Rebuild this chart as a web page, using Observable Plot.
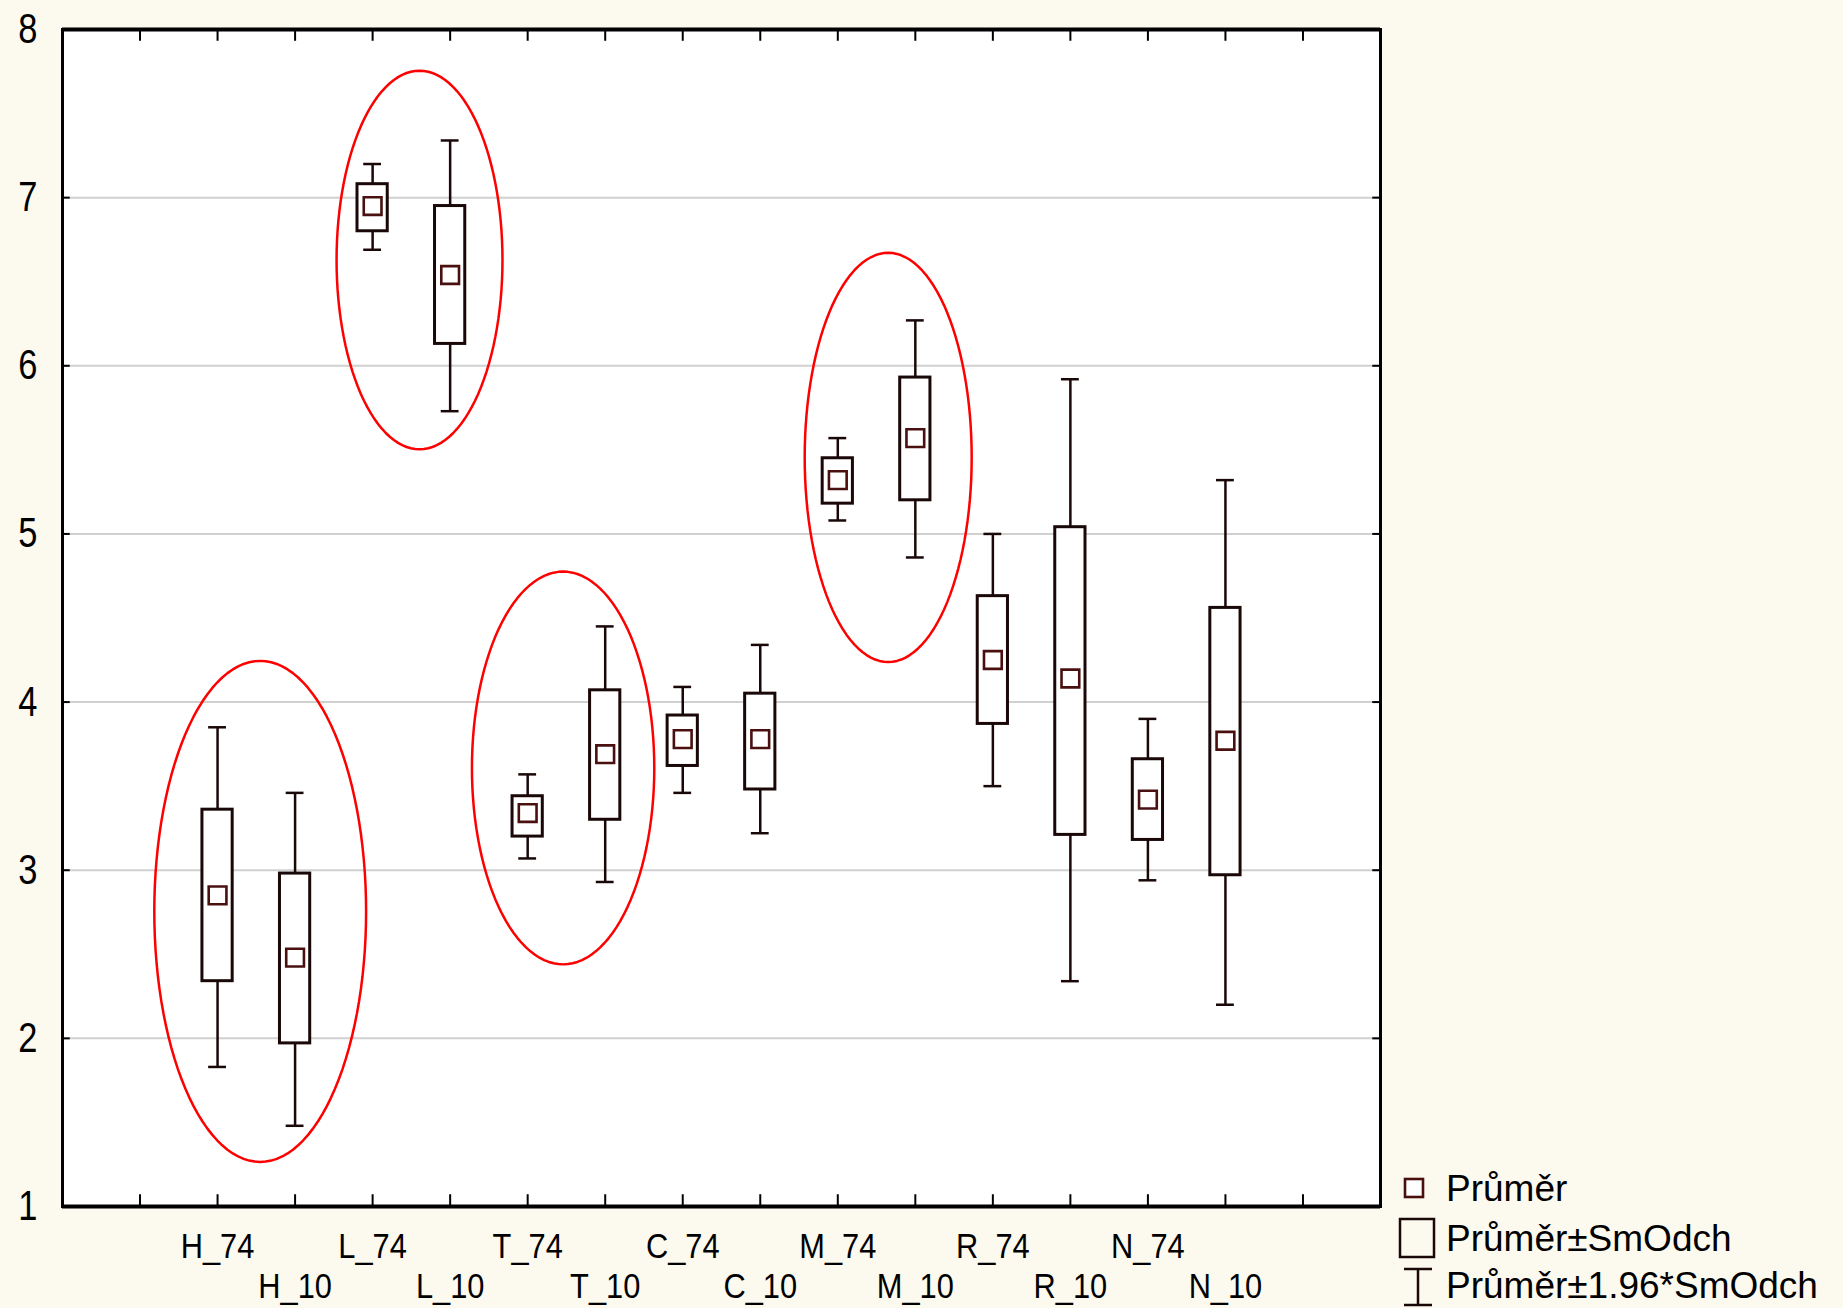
<!DOCTYPE html>
<html>
<head>
<meta charset="utf-8">
<script src="https://cdn.jsdelivr.net/npm/d3@7"></script>
<script src="https://cdn.jsdelivr.net/npm/@observablehq/plot@0.6"></script>
<style>
  html, body { margin: 0; padding: 0; background: #FCF9EE; }
  #wrap { position: relative; width: 1843px; height: 1308px; overflow: hidden; }
  #legend { position: absolute; left: 0; top: 0; pointer-events: none; }
</style>
</head>
<body>
<div id="wrap"></div>
<script>
// ---- data ----
const categories = ["H_74","H_10","L_74","L_10","T_74","T_10","C_74","C_10","M_74","M_10","R_74","R_10","N_74","N_10"];
const means  = [2.85, 2.48, 6.95, 6.54, 3.34, 3.69, 3.78, 3.78, 5.32, 5.57, 4.25, 4.14, 3.42, 3.77];
const sdLow  = [2.34, 1.97, 6.80, 6.13, 3.20, 3.30, 3.62, 3.48, 5.18, 5.20, 3.87, 3.21, 3.18, 2.97];
const sdHigh = [3.36, 2.98, 7.08, 6.95, 3.44, 4.07, 3.92, 4.05, 5.45, 5.93, 4.63, 5.04, 3.66, 4.56];
const ciLow  = [1.83, 1.48, 6.69, 5.73, 3.07, 2.93, 3.46, 3.22, 5.08, 4.86, 3.50, 2.34, 2.94, 2.20];
const ciHigh = [3.85, 3.46, 7.20, 7.34, 3.57, 4.45, 4.09, 4.34, 5.57, 6.27, 5.00, 5.92, 3.90, 5.32];
const yTickLabels = [1, 2, 3, 4, 5, 6, 7, 8];
const gridValues = [2, 3, 4, 5, 6, 7];
// highlighted pairs (ellipses): centre between the pair, radii in data units
const ellipseCx = [2.55, 4.605, 6.457, 10.65];
const ellipseCy = [2.755, 6.629, 3.608, 5.455];
const ellipseRx = [1.366, 1.07, 1.176, 1.077];
const ellipseRy = [1.49, 1.126, 1.168, 1.217];
const legendLabels = ["Průměr", "Průměr±SmOdch", "Průměr±1.96*SmOdch"];

// ---- build tables ----
const rows = categories.map((c, i) => ({
  cat: c, pos: i + 2, mean: means[i], sdLow: sdLow[i], sdHigh: sdHigh[i], ciLow: ciLow[i], ciHigh: ciHigh[i]
}));
const slotPositions = d3.range(1, categories.length + 3); // 1..16 tick slots
const row1Pos = rows.filter(d => d.cat.endsWith("_74")).map(d => d.pos);
const row2Pos = rows.filter(d => d.cat.endsWith("_10")).map(d => d.pos);
const ellipsePts = [];
ellipseCx.forEach((cx, k) => {
  for (let j = 0; j <= 120; j++) {
    const a = (j / 120) * 2 * Math.PI;
    ellipsePts.push({k, x: cx + ellipseRx[k] * Math.cos(a), y: ellipseCy[k] + ellipseRy[k] * Math.sin(a)});
  }
});

const boxColor = "#1a0808";
const meanColor = "#4a1010";
const font = "'Liberation Sans', Arial, sans-serif";

const chart = Plot.plot({
  width: 1843,
  height: 1308,
  marginLeft: 62,
  marginRight: 463,
  marginTop: 29,
  marginBottom: 102,
  style: {background: "transparent", fontFamily: font, color: "black", overflow: "visible"},
  x: {domain: [0, 17]},
  y: {domain: [1, 8]},
  marks: [
    Plot.frame({fill: "white"}),
    Plot.ruleY(gridValues, {stroke: "#d0d0d0", strokeWidth: 2}),
    // inward ticks
    Plot.ruleY(yTickLabels, {x1: 0, x2: 0.1, stroke: "black", strokeWidth: 2}),
    Plot.ruleY(yTickLabels, {x1: 16.9, x2: 17, stroke: "black", strokeWidth: 2}),
    Plot.ruleX(slotPositions, {y1: 8, y2: 7.93, stroke: "black", strokeWidth: 2}),
    Plot.ruleX(slotPositions, {y1: 1, y2: 1.07, stroke: "black", strokeWidth: 2}),
    // whiskers
    Plot.ruleX(rows, {x: "pos", y1: "ciLow", y2: "ciHigh", stroke: boxColor, strokeWidth: 2.5}),
    Plot.ruleY(rows, {y: "ciHigh", x1: d => d.pos - 0.115, x2: d => d.pos + 0.115, stroke: boxColor, strokeWidth: 2.5}),
    Plot.ruleY(rows, {y: "ciLow", x1: d => d.pos - 0.115, x2: d => d.pos + 0.115, stroke: boxColor, strokeWidth: 2.5}),
    // boxes
    Plot.rect(rows, {x1: d => d.pos - 0.195, x2: d => d.pos + 0.195, y1: "sdLow", y2: "sdHigh", fill: "white", stroke: boxColor, strokeWidth: 3}),
    // means
    Plot.dot(rows, {x: "pos", y: "mean", symbol: "square", r: 10, fill: "white", stroke: meanColor, strokeWidth: 2.6}),
    // ellipses
    Plot.line(ellipsePts, {x: "x", y: "y", z: "k", stroke: "#ff0000", strokeWidth: 2.5}),
    // frame
    Plot.frame({stroke: "black", strokeWidth: 3}),
    Plot.ruleY([1, 8], {stroke: "black", strokeWidth: 4}),
    // axes labels
    Plot.axisY({ticks: yTickLabels, tickSize: 0, tickPadding: 25, fontSize: 42, tickFormat: d => String(d), label: null}),
    Plot.axisX({ticks: row1Pos, tickSize: 0, tickPadding: 27, fontSize: 35, tickFormat: p => categories[p - 2], label: null}),
    Plot.axisX({ticks: row2Pos, tickSize: 0, tickPadding: 67, fontSize: 35, tickFormat: p => categories[p - 2], label: null})
  ]
});

// slightly condensed tick labels, as in the original
function condense(sel, s) {
  sel.each(function () {
    const x = +(this.getAttribute("x") || 0);
    const t = this.getAttribute("transform") || "";
    this.setAttribute("transform", `${t} translate(${x},0) scale(${s},1) translate(${-x},0)`);
  });
}
const root = d3.select(chart);
condense(root.selectAll('g[aria-label="y-axis tick label"] text'), 0.82);
condense(root.selectAll('g[aria-label="x-axis tick label"] text'), 0.88);
root.selectAll('g[aria-label="y-axis tick label"] text, g[aria-label="x-axis tick label"] text').attr("fill", "black");

document.getElementById("wrap").appendChild(chart);

// ---- legend ----
const lg = d3.select("#wrap").append("svg").attr("id", "legend").attr("width", 1843).attr("height", 1308);
const rowY = [1188, 1238, 1285];
const tx = 1446;
// mean symbol
lg.append("rect").attr("x", 1405).attr("y", rowY[0] - 9).attr("width", 18).attr("height", 18)
  .attr("fill", "white").attr("stroke", meanColor).attr("stroke-width", 2.6);
// box symbol
lg.append("rect").attr("x", 1400).attr("y", rowY[1] - 19).attr("width", 34).attr("height", 38)
  .attr("fill", "none").attr("stroke", boxColor).attr("stroke-width", 2.5);
// whisker symbol
lg.append("line").attr("x1", 1404).attr("x2", 1432).attr("y1", rowY[2] - 16).attr("y2", rowY[2] - 16).attr("stroke", boxColor).attr("stroke-width", 2.5);
lg.append("line").attr("x1", 1418).attr("x2", 1418).attr("y1", rowY[2] - 16).attr("y2", rowY[2] + 20).attr("stroke", boxColor).attr("stroke-width", 2.5);
lg.append("line").attr("x1", 1404).attr("x2", 1432).attr("y1", rowY[2] + 20).attr("y2", rowY[2] + 20).attr("stroke", boxColor).attr("stroke-width", 2.5);
legendLabels.forEach((t, i) => {
  lg.append("text").attr("x", tx).attr("y", rowY[i] + 13).attr("font-family", font).attr("font-size", 37)
    .attr("fill", "black").text(t);
});
</script>
</body>
</html>
